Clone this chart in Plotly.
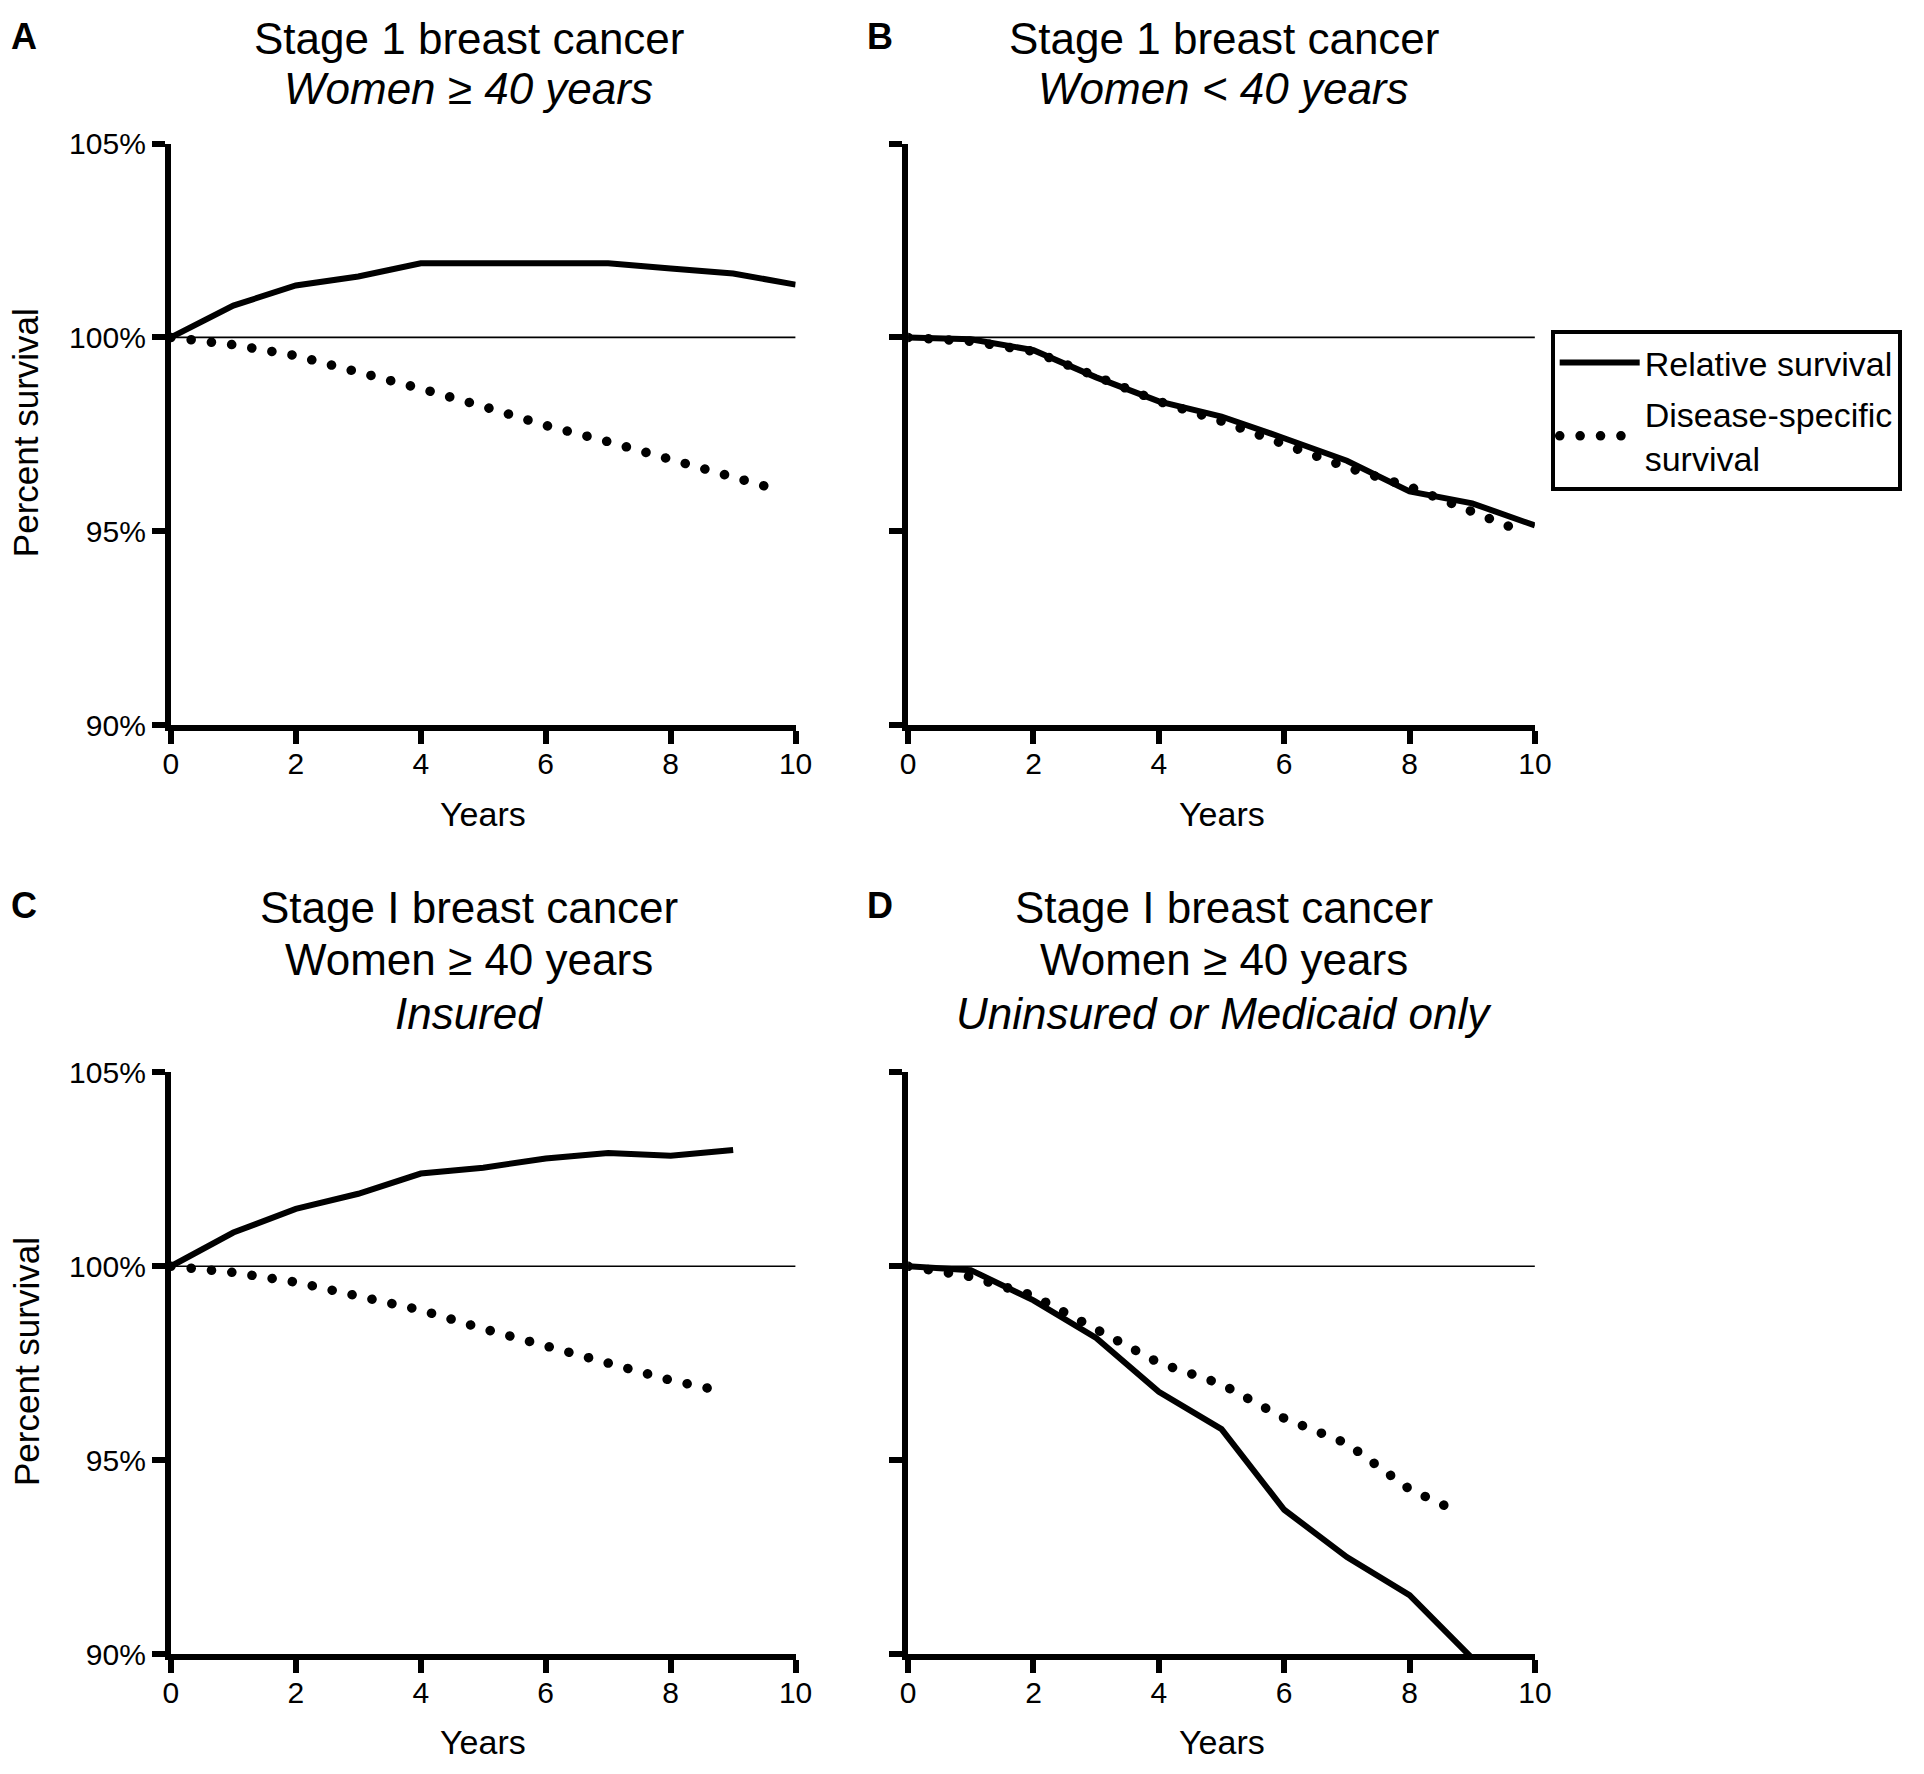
import plotly.graph_objects as go

# ---------------- data ----------------
years_A_rel = [0, 1, 2, 3, 4, 5, 6, 7, 8, 9, 10]
A_relative = [100, 100.82, 101.34, 101.57, 101.91, 101.91, 101.94, 101.91, 101.78, 101.65, 101.36]
years_A_ds = [0, 1, 2, 3, 4, 5, 6, 7, 8, 9, 9.72]
A_disease = [100, 99.81, 99.53, 99.13, 98.68, 98.22, 97.73, 97.31, 96.85, 96.42, 96.07]

years_B_rel = [0, 1, 2, 3, 4, 5, 6, 7, 8, 9, 10]
B_relative = [100, 99.95, 99.67, 98.97, 98.35, 97.96, 97.40, 96.82, 96.03, 95.72, 95.15]
years_B_ds = [0, 1, 2, 3, 4, 5, 6, 7, 8, 9, 9.83]
B_disease = [100, 99.90, 99.64, 98.97, 98.35, 97.84, 97.25, 96.65, 96.15, 95.52, 94.97]

years_C_rel = [0, 1, 2, 3, 4, 5, 6, 7, 8, 9]
C_relative = [100, 100.87, 101.48, 101.87, 102.39, 102.54, 102.78, 102.92, 102.85, 103.0]
years_C_ds = [0, 1, 2, 3, 4, 5, 6, 7, 8, 8.79]
C_disease = [100, 99.84, 99.59, 99.23, 98.87, 98.39, 97.96, 97.52, 97.06, 96.79]

years_D_rel = [0, 1, 2, 3, 4, 5, 6, 7, 8, 9]
D_relative = [100, 99.90, 99.12, 98.15, 96.76, 95.80, 93.72, 92.50, 91.52, 89.89]
years_D_ds = [0, 1, 2, 3, 4, 5, 6, 7, 8, 8.77]
D_disease = [100, 99.73, 99.24, 98.40, 97.51, 96.96, 96.08, 95.43, 94.25, 93.67]

x_ticks = [0, 2, 4, 6, 8, 10]
y_ticks = [90, 95, 100, 105]
y_tick_labels = ["90%", "95%", "100%", "105%"]
reference_level = 100

series_names = ["Relative survival", "Disease-specific<br>survival"]

panel_letters = ["A", "B", "C", "D"]
panel_titles = [
    ["Stage 1 breast cancer", "<i>Women ≥ 40 years</i>"],
    ["Stage 1 breast cancer", "<i>Women &lt; 40 years</i>"],
    ["Stage I breast cancer", "Women ≥ 40 years", "<i>Insured</i>"],
    ["Stage I breast cancer", "Women ≥ 40 years", "<i>Uninsured or Medicaid only</i>"],
]
y_title = "Percent survival"
x_title = "Years"

# ---------------- layout geometry (pixels of the 1924x1774 canvas) ----------------
W, H = 1924, 1774
FONT = "Liberation Sans, Arial, Helvetica, sans-serif"


def px_x(p):
    return p / W


def px_y(p):
    return 1 - p / H


col_px = [(165, 798), (912, 1547)]
row_px = [(129, 722), (1076, 1669)]

panels = [
    (years_A_rel, A_relative, years_A_ds, A_disease),
    (years_B_rel, B_relative, years_B_ds, B_disease),
    (years_C_rel, C_relative, years_C_ds, C_disease),
    (years_D_rel, D_relative, years_D_ds, D_disease),
]

fig = go.Figure()
layout = dict(
    width=W, height=H,
    margin=dict(l=0, r=0, t=0, b=0),
    paper_bgcolor="white", plot_bgcolor="white",
    font=dict(family=FONT, color="black", size=30),
    showlegend=True,
    legend=dict(
        x=px_x(1563), y=px_y(319), xanchor="left", yanchor="top",
        bordercolor="black", borderwidth=4, bgcolor="white",
        font=dict(size=34, family=FONT, color="black"),
        tracegroupgap=4, itemwidth=80,
    ),
    annotations=[], shapes=[],
)

solid_w = 6
dot_w = 9.5
axis_w = 6

for i, (xr, yr, xd, yd) in enumerate(panels):
    r, c = divmod(i, 2)
    n = i + 1
    xa = "x" if n == 1 else f"x{n}"
    ya = "y" if n == 1 else f"y{n}"
    xkey = "xaxis" if n == 1 else f"xaxis{n}"
    ykey = "yaxis" if n == 1 else f"yaxis{n}"
    x0p, x1p = col_px[c]
    y0p, y1p = row_px[r]

    layout[xkey] = dict(
        domain=[px_x(x0p), px_x(x1p)], range=[0, 10], anchor=ya,
        tickvals=x_ticks, showline=True, linewidth=axis_w, linecolor="black",
        ticks="outside", ticklen=13, tickwidth=axis_w, tickcolor="black",
        showgrid=False, zeroline=False, tickfont=dict(size=30, family=FONT),
        ticklabelstandoff=-6, fixedrange=True,
    )
    layout[ykey] = dict(
        domain=[px_y(y1p), px_y(y0p)], range=[90, 105], anchor=xa,
        tickvals=y_ticks, ticktext=y_tick_labels, showticklabels=(c == 0),
        showline=True, linewidth=axis_w, linecolor="black",
        ticks="outside", ticklen=13, tickwidth=axis_w, tickcolor="black",
        showgrid=False, zeroline=False, tickfont=dict(size=30, family=FONT),
        ticklabelstandoff=0, fixedrange=True,
    )

    layout["shapes"].append(dict(
        type="line", xref=xa, yref=ya, x0=0, x1=10,
        y0=reference_level, y1=reference_level,
        line=dict(color="black", width=1.6), layer="below",
    ))

    fig.add_trace(go.Scatter(
        x=xr, y=yr, mode="lines", name=series_names[0],
        line=dict(color="black", width=solid_w),
        xaxis=xa, yaxis=ya, legendgroup="rel", showlegend=(i == 0),
    ))
    fig.add_trace(go.Scatter(
        x=xd, y=yd, mode="lines", name=series_names[1],
        line=dict(color="black", width=dot_w, dash="0.1px,20.3px"),
        xaxis=xa, yaxis=ya, legendgroup="ds", showlegend=(i == 0),
    ))

    # panel letter
    layout["annotations"].append(dict(
        text=f"<b>{panel_letters[i]}</b>", xref="paper", yref="paper",
        x=px_x(16 if c == 0 else 883), y=px_y(20 if r == 0 else 906),
        xanchor="center", yanchor="middle", showarrow=False,
        font=dict(size=36, family=FONT),
    ))
    # title lines
    title_cx = 467 if c == 0 else 1232
    line_y = [22, 73] if r == 0 else [908, 961, 1016]
    for line_text, ly in zip(panel_titles[i], line_y):
        layout["annotations"].append(dict(
            text=line_text, xref="paper", yref="paper",
            x=px_x(title_cx), y=px_y(ly), xanchor="center", yanchor="middle",
            showarrow=False, font=dict(size=44, family=FONT),
        ))
    # x-axis title
    layout["annotations"].append(dict(
        text=x_title, xref="paper", yref="paper",
        x=px_x((x0p + x1p) / 2), y=px_y(813 if r == 0 else 1759),
        xanchor="center", yanchor="middle", showarrow=False,
        font=dict(size=34, family=FONT),
    ))
    # y-axis title (left column only)
    if c == 0:
        layout["annotations"].append(dict(
            text=y_title, xref="paper", yref="paper", textangle=-90,
            x=px_x(18), y=px_y((y0p + y1p) / 2 - 2),
            xanchor="center", yanchor="middle", showarrow=False,
            font=dict(size=35, family=FONT),
        ))

fig.update_layout(**layout)

post_js = """
document.documentElement.style.margin='0';
document.body.style.margin='0';
document.body.style.overflow='hidden';
var gd = document.getElementById('{plot_id}');
function roundDots(){
  gd.querySelectorAll('path.js-line').forEach(function(p){
    var d = p.style.strokeDasharray;
    if (d && d !== 'none') { p.style.strokeLinecap = 'round'; }
  });
}
roundDots();
gd.on('plotly_afterplot', roundDots);
"""

fig.write_html("out.html", config={"displayModeBar": False}, post_script=post_js)
